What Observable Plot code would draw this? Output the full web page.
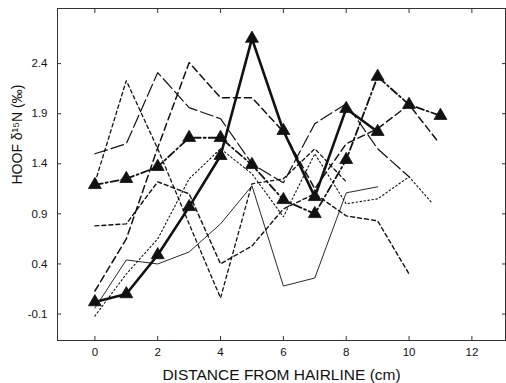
<!DOCTYPE html>
<html><head><meta charset="utf-8">
<script src="https://cdn.jsdelivr.net/npm/d3@7"></script>
<script src="https://cdn.jsdelivr.net/npm/@observablehq/plot@0.6"></script>
<style>body{margin:0;background:#fff}</style>
</head><body><div id="chart"></div>
<script>
// Axis ticks and titles
const xTicks = [0, 2, 4, 6, 8, 10, 12];
const yTicks = [-0.1, 0.4, 0.9, 1.4, 1.9, 2.4];
const xTitle = "DISTANCE FROM HAIRLINE (cm)";
const yTitle = "HOOF δ¹⁵N (‰)";

// Series (distance cm, hoof δ15N ‰)
const thickTriX = [0, 1, 2, 3, 4, 5, 6, 7, 8, 9];
const thickTriY = [0.02, 0.1, 0.49, 0.97, 1.48, 2.65, 1.73, 1.07, 1.95, 1.72];
const dashDotTriX = [0, 1, 2, 3, 4, 5, 6, 7, 8, 9, 10, 11];
const dashDotTriY = [1.19, 1.25, 1.37, 1.66, 1.66, 1.39, 1.04, 0.9, 1.44, 2.27, 1.99, 1.88];
const longDashX = [0, 1, 2, 3, 4, 5, 6, 7, 8, 9, 10];
const longDashY = [1.5, 1.6, 2.31, 1.96, 1.85, 1.4, 1.21, 1.8, 2.0, 1.55, 1.27];
const medDashX = [0, 1, 2, 3, 4, 5, 6, 7, 8, 9, 10, 10.9];
const medDashY = [0.13, 0.65, 1.56, 2.41, 2.06, 2.06, 1.72, 1.15, 1.6, 1.75, 1.99, 1.63];
const shortDashAX = [0, 1, 2, 3, 4, 5, 6, 7, 8];
const shortDashAY = [1.21, 2.23, 1.55, 0.8, 0.06, 1.2, 1.25, 1.55, 1.22];
const shortDashBX = [0, 1, 2, 3, 4, 5, 6, 7, 8, 9, 10];
const shortDashBY = [0.78, 0.8, 1.22, 1.1, 0.4, 0.58, 0.95, 1.1, 0.88, 0.83, 0.3];
const thinSolidX = [0, 1, 2, 3, 4, 5, 6, 7, 8, 9];
const thinSolidY = [-0.04, 0.44, 0.4, 0.52, 0.8, 1.18, 0.18, 0.26, 1.11, 1.17];
const dottedX = [0, 1, 2, 3, 4, 5, 6, 7, 8, 9, 10, 10.7];
const dottedY = [-0.12, 0.3, 0.65, 1.25, 1.55, 1.3, 0.87, 1.5, 1.0, 1.05, 1.27, 1.02];

// Styles (kept separate from data)
const series = [
  {xs: dottedX, ys: dottedY, style: {strokeWidth: 1.1, strokeDasharray: "1.5,2.5"}},
  {xs: thinSolidX, ys: thinSolidY, style: {strokeWidth: 0.9}},
  {xs: shortDashBX, ys: shortDashBY, style: {strokeWidth: 1.4, strokeDasharray: "4,3"}},
  {xs: shortDashAX, ys: shortDashAY, style: {strokeWidth: 1.3, strokeDasharray: "3.5,3"}},
  {xs: medDashX, ys: medDashY, style: {strokeWidth: 1.5, strokeDasharray: "7,4"}},
  {xs: longDashX, ys: longDashY, style: {strokeWidth: 1.2, strokeDasharray: "13,4"}},
  {xs: dashDotTriX, ys: dashDotTriY, style: {strokeWidth: 1.8, strokeDasharray: "8,3,2,3"}, marker: true},
  {xs: thickTriX, ys: thickTriY, style: {strokeWidth: 2.6}, marker: true}
];
const toRows = s => s.xs.map((x, i) => ({x, y: s.ys[i]}));

const ink = "#111";
const marks = [];
for (const s of series) {
  const rows = toRows(s);
  marks.push(Plot.line(rows, {x: "x", y: "y", stroke: ink, strokeLinejoin: "miter", ...s.style}));
  if (s.marker) marks.push(Plot.dot(rows, {x: "x", y: "y", symbol: "triangle", r: 4.8, fill: ink, stroke: ink, strokeWidth: 0.8}));
}

const chart = Plot.plot({
  width: 506, height: 383,
  marginLeft: 57, marginRight: 1, marginTop: 8, marginBottom: 43,
  style: {fontFamily: "'Liberation Sans', Arial, sans-serif", fontSize: "11.5px", color: ink, background: "#fff"},
  x: {domain: [-1.19, 13.07]},
  y: {domain: [-0.364, 2.95]},
  marks: [
    Plot.frame({stroke: "#333", strokeWidth: 1}),
    Plot.axisX(xTicks, {anchor: "bottom", tickSize: -4, tickPadding: 11, label: null, stroke: "#333"}),
    Plot.axisX(xTicks, {anchor: "top", tickSize: -4, tickFormat: () => "", label: null, stroke: "#333"}),
    Plot.axisY(yTicks, {anchor: "left", tickSize: -4, tickPadding: 14, label: null, tickFormat: d => d.toFixed(1), stroke: "#333"}),
    Plot.axisY(yTicks, {anchor: "right", tickSize: -4, tickFormat: () => "", label: null, stroke: "#333"}),
    ...marks,
    Plot.text([xTitle], {frameAnchor: "bottom", dy: 39, fontSize: 15.5, fill: ink}),
    Plot.text([yTitle], {frameAnchor: "left", rotate: -90, dx: -40, dy: 10, fontSize: 14, fill: ink})
  ]
});
document.getElementById("chart").append(chart);
</script>
</body></html>
